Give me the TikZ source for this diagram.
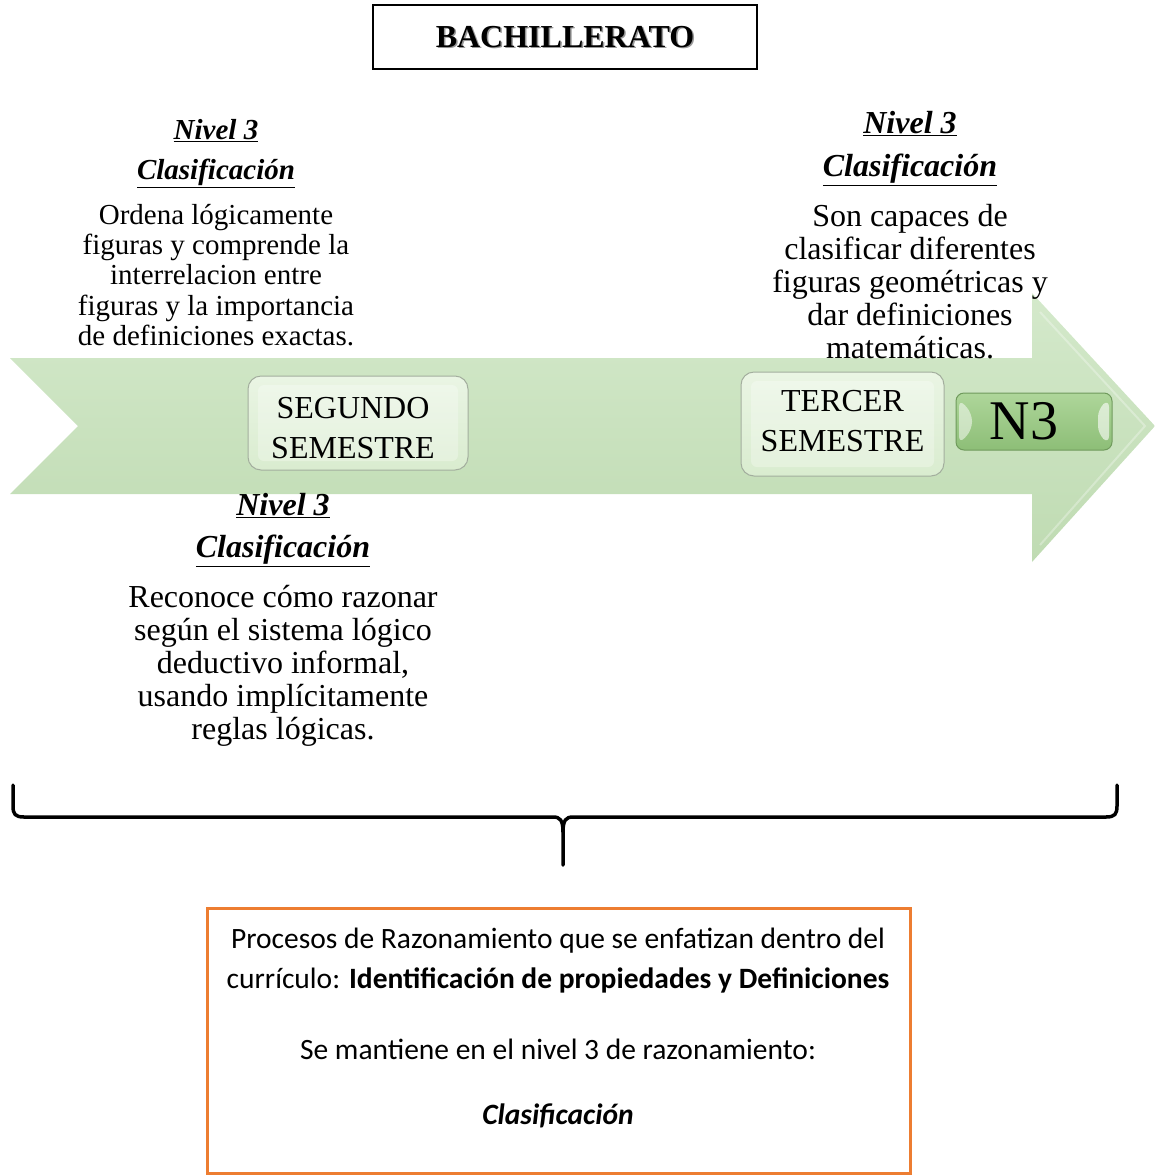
\documentclass[tikz,border=0pt]{standalone}
\usepackage{fontspec}
\setmainfont{Liberation Serif}
\newfontfamily\calibrifont{Carlito}
\definecolor{arrowtop}{HTML}{D4E9CB}
\definecolor{arrowbot}{HTML}{BFDBB2}
\definecolor{boxedge}{HTML}{A3AE9E}
\definecolor{boxtop}{HTML}{EAF5E4}
\definecolor{boxbot}{HTML}{D9ECCF}
\definecolor{nedge}{HTML}{6F9A5C}
\definecolor{ntop}{HTML}{AED69A}
\definecolor{nbot}{HTML}{8DBE77}
\definecolor{frame}{HTML}{ED7D31}
\tikzset{
  titlebox/.style={draw=black, line width=1.6pt, minimum width=384pt, minimum height=64pt, inner sep=0pt},
  titletext/.style={font=\fontsize{32}{34}\selectfont\bfseries},
  heading/.style={font=\fontsize{#1}{#1}\selectfont\bfseries\itshape, inner sep=0pt},
  body/.style 2 args={font=\fontsize{#1}{#2}\selectfont, align=center, inner sep=0pt},
  semibox/.style={rounded corners=13pt, draw=boxedge, line width=1pt,
    top color=boxtop, bottom color=boxbot, inner sep=0pt,
    path picture={
      \fill[white, opacity=0.28, rounded corners=6pt]
        ([shift={(10pt,9pt)}]path picture bounding box.south west) rectangle
        ([shift={(-10pt,-9pt)}]path picture bounding box.north east);
    }},
  semitext/.style={align=center, font=\fontsize{32}{40}\selectfont, inner sep=0pt},
  nbox/.style={rounded corners=8pt, draw=nedge, line width=1pt,
    top color=ntop, bottom color=nbot, inner sep=0pt,
    path picture={
      \fill[white, opacity=0.5]
        ([shift={(3pt,6pt)}]path picture bounding box.south west) --
        ([shift={(3pt,-6pt)}]path picture bounding box.north west) --
        ([shift={(16pt,-20pt)}]path picture bounding box.north west) --
        ([shift={(16pt,20pt)}]path picture bounding box.south west) -- cycle;
      \fill[white, opacity=0.6]
        ([shift={(-3pt,6pt)}]path picture bounding box.south east) --
        ([shift={(-3pt,-6pt)}]path picture bounding box.north east) --
        ([shift={(-14pt,-16pt)}]path picture bounding box.north east) --
        ([shift={(-14pt,16pt)}]path picture bounding box.south east) -- cycle;
    }},
  framebox/.style={draw=frame, line width=3pt},
  bottomtext/.style={font=\calibrifont\fontsize{29.5}{40}\selectfont, align=center, inner sep=0pt},
  bracket/.style={line width=3.5pt, line cap=round, line join=round}
}
\begin{document}
\begin{tikzpicture}[x=1pt,y=-1pt]
\useasboundingbox (0,0) rectangle (1155,1176);

% title
\node[titlebox] (title) at (565,37) {};
\node[titletext, text=black!40] (titleshadow) at ([shift={(1.5pt,-1.5pt)}]title.center) {BACHILLERATO};
\node[titletext] (titletxt) at (title.center) {BACHILLERATO};

% timeline arrow
\shade[top color=arrowtop, bottom color=arrowbot]
  (10,358) -- (1032,358) -- (1032,293) -- (1155,426) -- (1032,562)
  -- (1032,494) -- (10,494) -- (78,426) -- cycle;
\draw[white, opacity=0.3, line width=2pt]
  (1040,312) -- (1145,426) -- (1040,545);

% semester boxes
\node[semibox, minimum width=220pt, minimum height=94pt] (seg) at (358,423) {};
\node[semitext] (segtxt) at (353,428) {SEGUNDO\\SEMESTRE};
\node[semibox, minimum width=203pt, minimum height=104pt] (ter) at (842.5,424) {};
\node[semitext] (tertxt) at (842.5,421) {TERCER\\SEMESTRE};
\node[nbox, minimum width=156pt, minimum height=57pt] (n3) at (1034,421.5) {};
\node[font=\fontsize{56}{56}\selectfont, inner sep=0pt] (n3txt) at (1024,421) {N3};

% upper left description
\node[heading=29] (h1a) at (216,131) {\underline{Nivel 3}};
\node[heading=29] (h1b) at (216,173) {\underline{Clasificación}};
\node[body={29}{30.3}] (d1) at (216,275) {Ordena lógicamente\\figuras y comprende la\\interrelacion entre\\figuras y la importancia\\de definiciones exactas.};

% upper right description
\node[heading=32] (h2a) at (910,124) {\underline{Nivel 3}};
\node[heading=32] (h2b) at (910,170) {\underline{Clasificación}};
\node[body={32}{33}] (d2) at (910,282) {Son capaces de\\clasificar diferentes\\figuras geométricas y\\dar definiciones\\matemáticas.};

% lower left description
\node[heading=32] (h3a) at (283,506) {\underline{Nivel 3}};
\node[heading=32] (h3b) at (283,551) {\underline{Clasificación}};
\node[body={32}{33}] (d3) at (283,666) {Reconoce cómo razonar\\según el sistema lógico\\deductivo informal,\\usando implícitamente\\reglas lógicas.};

% bracket
\coordinate (bl) at (13,785);
\coordinate (br) at (1117,785);
\coordinate (bm) at (563,865);
\draw[bracket] (bl) -- (13,806) .. controls (13,814) and (15,817) .. (24,817)
  -- (553,817) .. controls (560,817) and (563,820) .. (563,832) -- (bm);
\draw[bracket] (br) -- (1117,806) .. controls (1117,814) and (1115,817) .. (1106,817)
  -- (573,817) .. controls (566,817) and (563,820) .. (563,832);

% summary box
\node[framebox, minimum width=703pt, minimum height=265pt, inner sep=0pt] (sum) at (558.5,1041) {};
\node[bottomtext] (s1) at (558,961) {Procesos de Razonamiento que se enfatizan dentro del\\currículo: \textbf{Identificación de propiedades y Definiciones}};
\node[bottomtext] (s2) at (558,1049) {Se mantiene en el nivel 3 de razonamiento:};
\node[bottomtext] (s3) at (558,1116) {\textbf{\textit{Clasificación}}};
\end{tikzpicture}
\end{document}
